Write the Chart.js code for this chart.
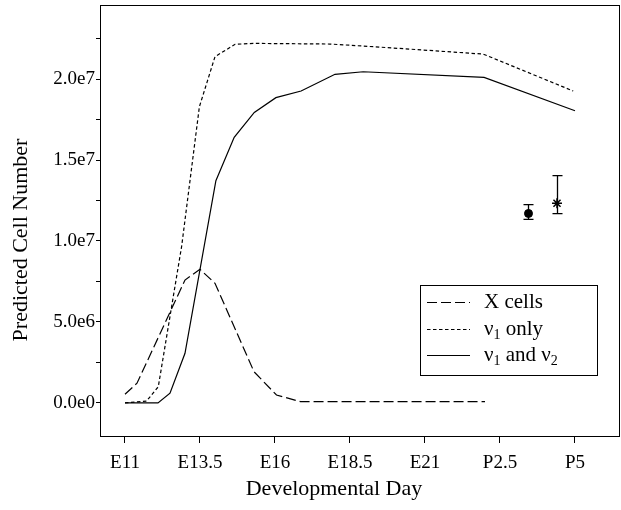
<!DOCTYPE html>
<html>
<head>
<meta charset="utf-8">
<script src="https://cdn.jsdelivr.net/npm/chart.js@4.4.1/dist/chart.umd.min.js"></script>
<style>
  html, body { margin: 0; padding: 0; background: #fff; }
</style>
</head>
<body>
<canvas id="chart" width="621" height="510"></canvas>
<script>
// x is developmental day on a linear scale: E11 = 11 ... E21 = 21, P2.5 = 23.5, P5 = 26
const dayTicks = [11, 13.5, 16, 18.5, 21, 23.5, 26];
const dayLabels = ["E11", "E13.5", "E16", "E18.5", "E21", "P2.5", "P5"];

const cellTicks = [0, 2.5e6, 5e6, 7.5e6, 1e7, 1.25e7, 1.5e7, 1.75e7, 2e7, 2.25e7];
const cellLabels = ["0.0e0", "", "5.0e6", "", "1.0e7", "", "1.5e7", "", "2.0e7", ""];

// X cells
const xCellsDays = [11, 11.4, 13.0, 13.5, 14.0, 15.3, 16.05, 16.85, 23.0];
const xCellsVals = [0.54e6, 1.22e6, 7.59e6, 8.25e6, 7.39e6, 1.93e6, 0.49e6, 0.08e6, 0.08e6];

// v1 only
const v1Days = [11, 11.72, 12.11, 12.89, 13.48, 14.0, 14.67, 15.28, 17.83, 19.33, 22.94, 25.94];
const v1Vals = [0, 0.12e6, 1.0e6, 9.69e6, 18.29e6, 21.38e6, 22.14e6, 22.2e6, 22.16e6, 21.99e6, 21.54e6, 19.26e6];

// v1 and v2
const v12Days = [11, 12.1, 12.5, 13.0, 14.03, 14.64, 15.31, 16.03, 16.87, 18.0, 18.94, 22.97, 26.0];
const v12Vals = [0, 0, 0.6e6, 3.07e6, 13.72e6, 16.4e6, 17.94e6, 18.85e6, 19.26e6, 20.29e6, 20.45e6, 20.1e6, 18.04e6];

// measured counts with error bars
const measDays = [24.45, 25.4];
const measVals = [11.7e6, 12.33e6];
const measLow = [11.34e6, 11.69e6];
const measHigh = [12.24e6, 14.03e6];

const legendLabels = ["X cells", "ν₁ only", "ν₁ and ν₂"];
const legendDash = [[10, 4], [3.5, 2.5], []];

const FONT = "'Liberation Serif', 'Times New Roman', serif";
Chart.defaults.font.family = FONT;
Chart.defaults.font.size = 19;
Chart.defaults.color = "#000";

const toPts = (xs, ys) => xs.map((x, i) => ({ x: x, y: ys[i] }));

function drawRich(ctx, text, x, y, size) {
  const subs = { "₁": "1", "₂": "2" };
  for (const ch of text) {
    if (subs[ch]) {
      ctx.font = Math.round(size * 0.65) + "px " + FONT;
      ctx.fillText(subs[ch], x, y + size * 0.3);
      x += ctx.measureText(subs[ch]).width;
    } else {
      ctx.font = size + "px " + FONT;
      ctx.fillText(ch, x, y);
      x += ctx.measureText(ch).width;
    }
  }
}

// no extra label padding, so the plot box sits where the frame is
const noPad = (s) => { s.paddingLeft = s.paddingRight = s.paddingTop = s.paddingBottom = 0; };

const extras = {
  id: "extras",
  afterDatasetsDraw(chart) {
    const ctx = chart.ctx;
    const xs = chart.scales.x, ys = chart.scales.y;
    ctx.save();
    ctx.strokeStyle = "#000";
    ctx.lineWidth = 1.3;
    measDays.forEach((d, i) => {
      const px = Math.round(xs.getPixelForValue(d)) + 0.5;
      const top = ys.getPixelForValue(measHigh[i]);
      const bot = ys.getPixelForValue(measLow[i]);
      ctx.beginPath();
      ctx.moveTo(px, top); ctx.lineTo(px, bot);
      ctx.moveTo(px - 5, top); ctx.lineTo(px + 5, top);
      ctx.moveTo(px - 5, bot); ctx.lineTo(px + 5, bot);
      ctx.stroke();
    });
    ctx.restore();
  },
  afterDraw(chart) {
    const ctx = chart.ctx;
    const a = chart.chartArea;
    ctx.save();
    ctx.strokeStyle = "#000";
    ctx.lineWidth = 1;
    ctx.strokeRect(Math.round(a.left) + 0.5, Math.round(a.top) + 0.5,
      Math.round(a.right - a.left) - 1, Math.round(a.bottom - a.top));

    // legend
    ctx.fillStyle = "#fff";
    ctx.fillRect(421, 286, 176, 89);
    ctx.strokeRect(420.5, 285.5, 177, 90);
    ctx.fillStyle = "#000";
    ctx.textBaseline = "middle";
    const rows = [302, 329, 355];
    legendLabels.forEach((lab, i) => {
      ctx.beginPath();
      ctx.setLineDash(legendDash[i]);
      ctx.moveTo(427, rows[i] + 0.5);
      ctx.lineTo(470, rows[i] + 0.5);
      ctx.stroke();
      ctx.setLineDash([]);
      drawRich(ctx, lab, 484, rows[i], 21);
    });

    // axis titles
    ctx.font = "22px " + FONT;
    ctx.textAlign = "center";
    ctx.fillText("Developmental Day", 334, 489);
    ctx.translate(21, 240);
    ctx.rotate(-Math.PI / 2);
    ctx.fillText("Predicted Cell Number", 0, 0);
    ctx.restore();
  }
};

new Chart(document.getElementById("chart"), {
  type: "line",
  data: {
    datasets: [
      { label: legendLabels[0], data: toPts(xCellsDays, xCellsVals), borderDash: legendDash[0] },
      { label: legendLabels[1], data: toPts(v1Days, v1Vals), borderDash: legendDash[1] },
      { label: legendLabels[2], data: toPts(v12Days, v12Vals), borderDash: legendDash[2] },
      {
        type: "scatter", label: "measured", data: toPts(measDays, measVals),
        pointStyle: ["circle", "star"], pointRadius: [4, 5],
        backgroundColor: "#000", borderColor: "#000", borderWidth: [1, 1.5]
      }
    ]
  },
  options: {
    responsive: false,
    animation: false,
    devicePixelRatio: 1,
    layout: { autoPadding: false, padding: { top: 5, right: 1, left: 0, bottom: 0 } },
    elements: {
      line: { borderColor: "#000", borderWidth: 1.2, tension: 0, fill: false },
      point: { radius: 0, hoverRadius: 0 }
    },
    plugins: { legend: { display: false }, tooltip: { enabled: false } },
    scales: {
      x: {
        type: "linear",
        min: 10.167, max: 27.5,
        afterFit: (s) => { s.height = 74; noPad(s); },
        afterBuildTicks: (s) => { s.ticks = dayTicks.map(v => ({ value: v })); },
        grid: { drawOnChartArea: false, color: "#000", tickLength: 7 },
        border: { display: false },
        ticks: {
          autoSkip: false, maxRotation: 0, padding: 9,
          callback: (v, i) => dayLabels[i]
        }
      },
      y: {
        type: "linear",
        min: -2.04e6, max: 24.57e6,
        afterFit: (s) => { s.width = 100; noPad(s); },
        afterBuildTicks: (s) => { s.ticks = cellTicks.map(v => ({ value: v })); },
        grid: { drawOnChartArea: false, color: "#000", tickLength: 4 },
        border: { display: false },
        ticks: {
          autoSkip: false, padding: 1,
          callback: (v, i) => cellLabels[i]
        }
      }
    }
  },
  plugins: [extras]
});
</script>
</body>
</html>
